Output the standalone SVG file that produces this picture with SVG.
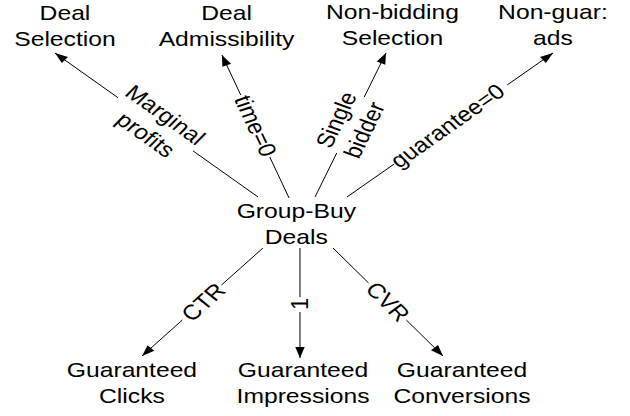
<svg xmlns="http://www.w3.org/2000/svg" width="630" height="416" viewBox="0 0 630 416">
<style>
text{font-family:"Liberation Sans",Arial,sans-serif;font-size:21px;fill:#000;text-anchor:middle}
.e{stroke:#000;stroke-width:1;fill:none;vector-effect:non-scaling-stroke}
</style>
<defs>
<marker id="ah" markerUnits="userSpaceOnUse" markerWidth="12" markerHeight="8" refX="11" refY="4" orient="auto" overflow="visible">
<path d="M0,0 L11,4 L0,8 Z" fill="#000"/>
</marker>
</defs>
<rect width="630" height="416" fill="#fff"/>
<g transform="scale(1.175,1)">
<g id="connectors">
<g id="e-marginal">
<line class="e" x1="219.6" y1="197" x2="164.3" y2="150.9"/>
<line class="e" x1="100.4" y1="97.7" x2="46.8" y2="53" marker-end="url(#ah)"/>
<g transform="translate(132.3,125) rotate(39.8)"><text y="-6">Marginal</text><text y="20">profits</text></g>
</g>
<g id="e-time">
<line class="e" x1="246" y1="198" x2="229.6" y2="157"/>
<line class="e" x1="204.9" y1="95" x2="188.9" y2="55" marker-end="url(#ah)"/>
<g transform="translate(217.3,126) rotate(68.2)"><text y="7">time=0</text></g>
</g>
<g id="e-single">
<line class="e" x1="268.1" y1="197" x2="286.6" y2="153"/>
<line class="e" x1="310" y1="97" x2="328.5" y2="53" marker-end="url(#ah)"/>
<g transform="translate(298.3,125) rotate(-67.2)"><text y="-6">Single</text><text y="20">bidder</text></g>
</g>
<g id="e-guarantee">
<line class="e" x1="295.3" y1="197" x2="335.5" y2="164"/>
<line class="e" x1="431.6" y1="85" x2="470.6" y2="53" marker-end="url(#ah)"/>
<g transform="translate(381,126) rotate(-39.4)"><text y="7">guarantee=0</text></g>
</g>
<g id="e-ctr">
<line class="e" x1="223.8" y1="248" x2="188.5" y2="285"/>
<line class="e" x1="155.2" y1="320" x2="120.9" y2="356" marker-end="url(#ah)"/>
<g transform="translate(172.8,302) rotate(-46.4)"><text y="7.5">CTR</text></g>
</g>
<g id="e-one">
<line class="e" x1="255.3" y1="248" x2="255.3" y2="297"/>
<line class="e" x1="255.3" y1="312" x2="255.3" y2="358" marker-end="url(#ah)"/>
<g transform="translate(255,304) rotate(-90)"><text y="7.5">1</text></g>
</g>
<g id="e-cvr">
<line class="e" x1="283.4" y1="248" x2="313.7" y2="283"/>
<line class="e" x1="345.8" y1="320" x2="377" y2="356" marker-end="url(#ah)"/>
<g transform="translate(330.2,301.5) rotate(49.1)"><text y="7.5">CVR</text></g>
</g>
</g>
<g id="n-deal-selection"><text x="55.3" y="19.8">Deal</text><text x="55.3" y="45.8">Selection</text></g>
<g id="n-deal-admissibility"><text x="192.8" y="19.8">Deal</text><text x="192.8" y="45.8">Admissibility</text></g>
<g id="n-non-bidding"><text x="334" y="19.3">Non-bidding</text><text x="334" y="45.3">Selection</text></g>
<g id="n-non-guar"><text x="470.6" y="19.3">Non-guar:</text><text x="470.6" y="45.3">ads</text></g>
<g id="n-group-buy"><text x="252.2" y="218.5">Group-Buy</text><text x="252.2" y="244.5">Deals</text></g>
<g id="n-clicks"><text x="112.3" y="377.4">Guaranteed</text><text x="112.3" y="403.4">Clicks</text></g>
<g id="n-impressions"><text x="257.9" y="377.4">Guaranteed</text><text x="257.9" y="403.4">Impressions</text></g>
<g id="n-conversions"><text x="393.2" y="377.4">Guaranteed</text><text x="393.2" y="403.4">Conversions</text></g>
</g>
</svg>
